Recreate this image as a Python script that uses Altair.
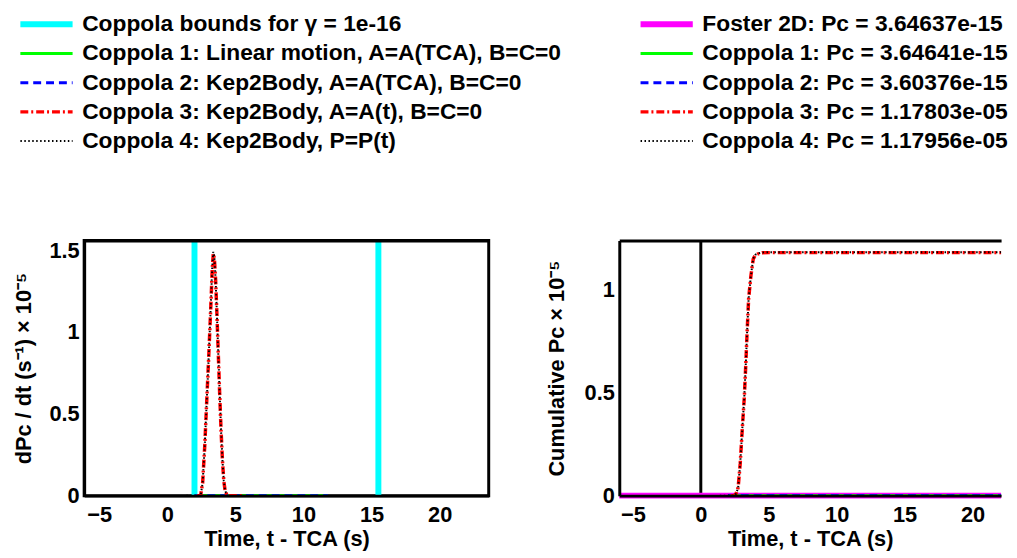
import altair as alt
import pandas as pd

FONT = "Liberation Sans"

# ---------------- series definitions ----------------
left_series = [
    "Coppola bounds for γ = 1e-16",
    "Coppola 1: Linear motion, A=A(TCA), B=C=0",
    "Coppola 2: Kep2Body, A=A(TCA), B=C=0",
    "Coppola 3: Kep2Body, A=A(t), B=C=0",
    "Coppola 4: Kep2Body, P=P(t)",
]
left_colors = ["#00ffff", "#00ff00", "#0000ff", "#ff0000", "#000000"]
line_widths = [6, 3, 3, 3.5, 2]
line_dashes = [[1, 0], [1, 0], [8, 5], [8, 3, 2, 3], [1.5, 2.5]]

pc_names = ["Foster 2D", "Coppola 1", "Coppola 2", "Coppola 3", "Coppola 4"]
pc_values = [3.64637e-15, 3.64641e-15, 3.60376e-15, 1.17803e-05, 1.17956e-05]
right_series = [f"{n}: Pc = {v:.5e}" for n, v in zip(pc_names, pc_values)]
right_colors = ["#ff00ff", "#00ff00", "#0000ff", "#ff0000", "#000000"]

# ---------------- left panel data: dPc/dt (x 1e-5 s^-1) ----------------
bound_times = [2.0, 15.5]

rate_t12 = [2.0, 4.0, 6.0, 8.0, 10.0, 11.8]
rate_1 = [0.0, 0.0, 0.0, 0.0, 0.0, 0.0]
rate_2 = [0.0, 0.0, 0.0, 0.0, 0.0, 0.0]
rate_t3 = [2.2, 2.45, 2.6, 2.75, 2.9, 3.05, 3.2, 3.3, 3.38, 3.46, 3.55, 3.65,
           3.75, 3.85, 3.95, 4.05, 4.15, 4.25, 4.4, 5.0, 5.6]
rate_3 = [0.0, 0.0, 0.08, 0.30, 0.58, 0.86, 1.16, 1.38, 1.48, 1.45, 1.32, 1.10,
          0.86, 0.62, 0.40, 0.22, 0.09, 0.03, 0.0, 0.0, 0.0]
rate_t4 = [1.4, 2.0, 2.2, 2.45, 2.6, 2.75, 2.9, 3.05, 3.2, 3.3, 3.38, 3.46, 3.55,
           3.65, 3.75, 3.85, 3.95, 4.05, 4.15, 4.25, 4.4]
rate_4 = [0.0, 0.0, 0.0, 0.0, 0.08, 0.30, 0.58, 0.86, 1.17, 1.39, 1.49, 1.46, 1.32,
          1.10, 0.86, 0.62, 0.40, 0.22, 0.09, 0.03, 0.0]

# ---------------- right panel data: cumulative Pc (x 1e-5) ----------------
tca_time = [0.0]

cum_t12 = [2.0, 6.0, 10.0, 14.0, 18.0, 22.2]
cum_1 = [0.0, 0.0, 0.0, 0.0, 0.0, 0.0]
cum_2 = [0.0, 0.0, 0.0, 0.0, 0.0, 0.0]
cum_t3 = [2.2, 2.45, 2.6, 2.75, 2.9, 3.05, 3.2, 3.3, 3.4, 3.52, 3.69, 3.86, 4.0,
          4.17, 4.5, 5.0, 10.0, 15.0, 22.2]
cum_3 = [0.0, 0.0, 0.01, 0.04, 0.155, 0.32, 0.475, 0.62, 0.78, 0.955, 1.067, 1.147,
         1.165, 1.171, 1.177, 1.178, 1.178, 1.178, 1.178]
cum_t4 = [1.4, 2.0, 2.2, 2.45, 2.6, 2.75, 2.9, 3.05, 3.2, 3.3, 3.4, 3.52, 3.69, 3.86,
          4.0, 4.17, 4.5, 5.0, 10.0, 15.0, 22.2]
cum_4 = [0.0, 0.0, 0.0, 0.0, 0.01, 0.04, 0.156, 0.321, 0.476, 0.621, 0.781, 0.956,
         1.068, 1.149, 1.167, 1.173, 1.179, 1.1796, 1.1796, 1.1796, 1.1796]

x_ticks = [-5, 0, 5, 10, 15, 20]


def frame(parts):
    rows = []
    for name, ts, vs in parts:
        rows += [{"t": t, "v": v, "series": name} for t, v in zip(ts, vs)]
    return pd.DataFrame(rows)


left_lines = frame([
    (left_series[1], rate_t12, rate_1),
    (left_series[2], rate_t12, rate_2),
    (left_series[3], rate_t3, rate_3),
    (left_series[4], rate_t4, rate_4),
])
left_bounds = pd.DataFrame({"t": bound_times, "series": [left_series[0]] * len(bound_times)})

right_lines = frame([
    (right_series[1], cum_t12, cum_1),
    (right_series[2], cum_t12, cum_2),
    (right_series[3], cum_t3, cum_3),
    (right_series[4], cum_t4, cum_4),
])
right_foster = pd.DataFrame({"v": [pc_values[0] * 1e5], "series": [right_series[0]]})
tca_df = pd.DataFrame({"t": tca_time})


def make_legend(x):
    return alt.Legend(
        title=None, orient="none", legendX=x, legendY=-230, direction="vertical",
        symbolType="M-1,0H5.6", symbolSize=256, symbolOffset=0,
        labelFont=FONT, labelFontSize=23, labelFontWeight="bold", labelColor="black",
        labelOffset=43, labelLimit=800, rowPadding=5.5, padding=0,
    )


def style(series, colors, legend):
    return dict(
        color=alt.Color("series:N", scale=alt.Scale(domain=series, range=colors), legend=legend),
        strokeWidth=alt.StrokeWidth("series:N", scale=alt.Scale(type="ordinal", domain=series, range=line_widths), legend=legend),
        strokeDash=alt.StrokeDash("series:N", scale=alt.Scale(domain=series, range=line_dashes), legend=legend),
    )


def x_axis():
    return alt.Axis(orient="bottom", values=x_ticks, title="Time, t - TCA (s)", grid=False, ticks=False,
                    domain=True, domainColor="black", domainWidth=3, zindex=1,
                    labelFont=FONT, labelFontSize=22, labelFontWeight="bold", labelColor="black",
                    labelPadding=9, labelFlush=False,
                    titleFont=FONT, titleFontSize=22, titleFontWeight="bold", titleColor="black",
                    titlePadding=3)


def y_axis(title, values, tpad):
    return alt.Axis(orient="left", values=values, format="~g", title=title, grid=False, ticks=False,
                    domain=True, domainColor="black", domainWidth=3, zindex=1,
                    labelFont=FONT, labelFontSize=22, labelFontWeight="bold", labelColor="black",
                    labelPadding=5,
                    titleFont=FONT, titleFontSize=22, titleFontWeight="bold", titleColor="black",
                    titlePadding=tpad)


def top_axis():
    return alt.Axis(orient="top", labels=False, ticks=False, title=None, grid=False,
                    domainColor="black", domainWidth=3, zindex=1)


# ---------------- left panel ----------------
lscale = alt.Scale(domain=[-6.1, 23.6], nice=False, zero=False)
lx = alt.X("t:Q", scale=lscale, axis=x_axis())
ly = alt.Y("v:Q", scale=alt.Scale(domain=[0, 1.56], nice=False),
           axis=y_axis("dPc / dt (s⁻¹) × 10⁻⁵", [0, 0.5, 1, 1.5], 14))
leg_l = make_legend(-68)

left_rule = alt.Chart(left_bounds).mark_rule().encode(
    x=alt.X("t:Q", scale=lscale, axis=top_axis()), **style(left_series, left_colors, leg_l))
left_line = alt.Chart(left_lines).mark_line(clip=True).encode(
    x=lx, y=ly, **style(left_series, left_colors, leg_l))
left = alt.layer(left_rule, left_line).properties(
    width=409, height=258, view=alt.ViewBackground(stroke="black", strokeWidth=3))

# ---------------- right panel ----------------
rscale = alt.Scale(domain=[-6.0, 22.1], nice=False, zero=False)
rx = alt.X("t:Q", scale=rscale, axis=x_axis())
ry = alt.Y("v:Q", scale=alt.Scale(domain=[0, 1.237], nice=False),
           axis=y_axis("Cumulative Pc × 10⁻⁵", [0, 0.5, 1], 16))
leg_r = make_legend(18)

tca_rule = alt.Chart(tca_df).mark_rule(color="black", strokeWidth=3).encode(
    x=alt.X("t:Q", scale=rscale, axis=top_axis()))
foster_rule = alt.Chart(right_foster).mark_rule().encode(
    y=ry, **style(right_series, right_colors, leg_r))
right_line = alt.Chart(right_lines).mark_line(clip=True).encode(
    x=rx, y=ry, **style(right_series, right_colors, leg_r))
right = alt.layer(tca_rule, foster_rule, right_line).properties(
    width=386, height=258, view=alt.ViewBackground(stroke="transparent"))

chart = alt.hconcat(left, right, spacing=132, bounds="flush").resolve_scale(
    color="independent", strokeWidth="independent", strokeDash="independent"
).properties(
    padding={"left": 2, "top": 0, "right": 0, "bottom": 0},
    background="white",
)

chart.save("out.html", embed_options={"renderer": "svg", "actions": False})
